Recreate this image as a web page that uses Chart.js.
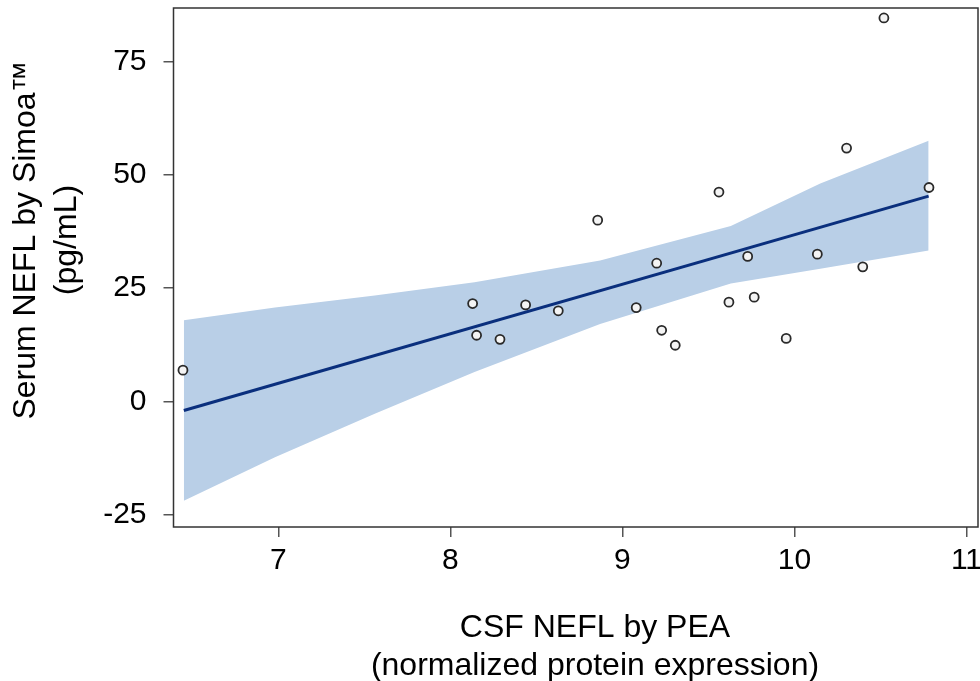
<!DOCTYPE html>
<html>
<head>
<meta charset="utf-8">
<script src="https://cdn.jsdelivr.net/npm/chart.js@4.4.1/dist/chart.umd.min.js"></script>
<style>
  html, body { margin: 0; background: #fff; overflow: hidden; }
  canvas { display: block; }
</style>
</head>
<body>
<canvas id="nefl" width="990" height="681"></canvas>
<script>
// observed samples (CSF NEFL by PEA vs serum NEFL)
const pointX = [6.445, 8.129, 8.152, 8.288, 8.437, 8.627, 8.856, 9.08, 9.199, 9.228, 9.307,
                9.561, 9.619, 9.728, 9.766, 9.952, 10.133, 10.303, 10.397, 10.52, 10.782];
const pointY = [6.9, 21.6, 14.6, 13.7, 21.3, 20.0, 40.0, 20.7, 30.5, 15.7, 12.4,
                46.2, 21.9, 32.0, 23.0, 13.9, 32.5, 55.9, 29.7, 84.6, 47.2];

// regression fit and its confidence band
const fitX = [6.45, 10.78];
const fitY = [-2.0, 45.3];
const bandX = [6.45, 6.98, 7.56, 8.14, 8.87, 9.63, 10.15, 10.78];
const bandUpper = [17.9, 20.7, 23.4, 26.3, 31.1, 38.7, 48.1, 57.5];
const bandLower = [-21.9, -12.3, -2.7, 6.5, 17.1, 26.0, 29.3, 33.3];

const xTicks = [7, 8, 9, 10, 11];
const yTicks = [-25, 0, 25, 50, 75];

const FONT = '"Liberation Sans", Arial, sans-serif';

function pairs(xs, ys) {
  return xs.map((x, i) => ({ x: x, y: ys[i] }));
}

// box around plot + axis titles
const framePlugin = {
  id: 'frame',
  afterDraw(chart) {
    const ctx = chart.ctx;
    const a = chart.chartArea;
    ctx.save();
    ctx.strokeStyle = '#333';
    ctx.lineWidth = 1.5;
    ctx.strokeRect(a.left, a.top, a.right - a.left, a.bottom - a.top);

    ctx.fillStyle = '#000';
    ctx.font = '32px ' + FONT;
    ctx.textAlign = 'center';
    ctx.textBaseline = 'alphabetic';
    ctx.fillText('CSF NEFL by PEA', 595, 637);
    ctx.fillText('(normalized protein expression)', 595, 675);

    ctx.translate(0, 240);
    ctx.rotate(-Math.PI / 2);
    ctx.fillText('Serum NEFL by Simoa\u2122', 0, 35);
    ctx.fillText('(pg/mL)', 0, 76);
    ctx.restore();
  }
};

window.onload = function () {
  new Chart(document.getElementById('nefl'), {
    type: 'scatter',
    data: {
      datasets: [
        {
          type: 'line',
          data: pairs(bandX, bandUpper),
          borderWidth: 0,
          pointRadius: 0,
          fill: false,
          tension: 0,
          order: 3
        },
        {
          type: 'line',
          data: pairs(bandX, bandLower),
          borderWidth: 0,
          pointRadius: 0,
          backgroundColor: '#b9cfe7',
          fill: '-1',
          tension: 0,
          order: 2
        },
        {
          type: 'line',
          data: pairs(fitX, fitY),
          borderColor: '#0a2f7d',
          borderWidth: 3,
          pointRadius: 0,
          fill: false,
          order: 1
        },
        {
          data: pairs(pointX, pointY),
          pointRadius: 4.5,
          pointBorderWidth: 1.8,
          pointBorderColor: '#2a2a2a',
          pointBackgroundColor: '#f4f4f4',
          order: 0
        }
      ]
    },
    options: {
      responsive: false,
      animation: false,
      // canvas is 10px wider than the window; right edge of the frame lands at ~978
      layout: { padding: { top: 8, right: 12, left: 0, bottom: 0 } },
      plugins: { legend: { display: false }, tooltip: { enabled: false } },
      scales: {
        x: {
          type: 'linear',
          min: 6.39,
          max: 11.067,
          afterFit(scale) {
            scale.height = 154;
            scale.paddingLeft = 0;
            scale.paddingRight = 0;
          },
          afterBuildTicks(scale) { scale.ticks = xTicks.map(v => ({ value: v })); },
          border: { display: false },
          grid: { drawOnChartArea: false, drawTicks: true, tickLength: 10, color: '#555', lineWidth: 1.5 },
          ticks: { color: '#000', font: { family: FONT, size: 30 }, padding: 6, maxRotation: 0 }
        },
        y: {
          type: 'linear',
          min: -27.7,
          max: 86.8,
          afterFit(scale) {
            scale.width = 173.5;
            scale.paddingTop = 0;
            scale.paddingBottom = 0;
          },
          afterBuildTicks(scale) { scale.ticks = yTicks.map(v => ({ value: v })); },
          border: { display: false },
          grid: { drawOnChartArea: false, drawTicks: true, tickLength: 10, color: '#555', lineWidth: 1.5 },
          ticks: { color: '#000', font: { family: FONT, size: 30 }, padding: 17 }
        }
      }
    },
    plugins: [framePlugin]
  });
};
</script>
</body>
</html>
